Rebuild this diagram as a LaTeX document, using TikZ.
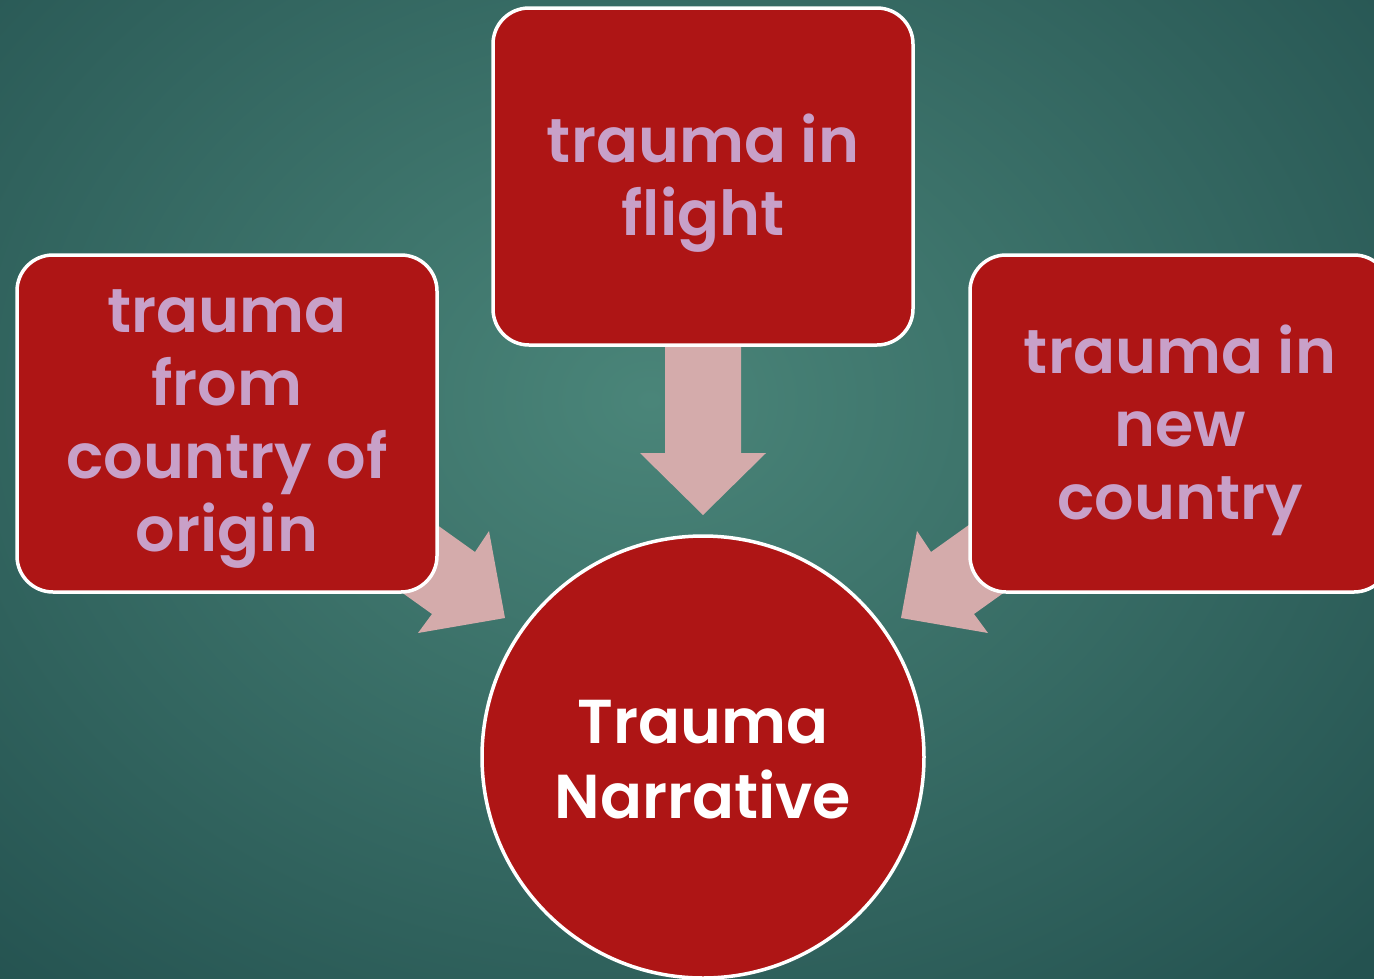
\documentclass[tikz,border=0pt]{standalone}
\usepackage{fontspec}
\setmainfont{Poppins}[BoldFont={* SemiBold}]
\usetikzlibrary{shapes.geometric}
\definecolor{bgmid}{HTML}{4A8579}
\definecolor{bgedge}{HTML}{245250}
\definecolor{boxred}{HTML}{AE1515}
\definecolor{txtpink}{HTML}{C8A0C8}
\definecolor{arrpink}{HTML}{D4ABAB}
\tikzset{
  redbox/.style={rectangle, rounded corners=36pt, draw=white, line width=3.5pt, fill=boxred,
    minimum width=420pt, minimum height=337pt},
  redcircle/.style={circle, draw=white, line width=3.5pt, fill=boxred, minimum size=442pt},
  pinktext/.style={text=txtpink, align=center, font=\fontsize{62}{73}\selectfont\bfseries},
  whitetext/.style={text=white, align=center, font=\fontsize{62}{75}\selectfont\bfseries},
  blockarrow/.style={fill=arrpink, draw=none}
}
\begin{document}
\begin{tikzpicture}[x=1pt,y=-1pt]
\useasboundingbox (0,0) rectangle (1374,978);
\clip (0,0) rectangle (1374,978);
\shade[inner color=bgmid, outer color=bgedge] (-350,-400) rectangle (1650,1200);
% arrows (behind boxes)
\fill[blockarrow] (665,330) -- (741,330) -- (741,453) -- (766,453) -- (703,515) -- (640,453) -- (665,453) -- cycle;
\fill[blockarrow] (370,477) -- (475,552) -- (489,531) -- (505,618) -- (418,633) -- (432,614) -- (327,539) -- cycle;
\fill[blockarrow] (1036,477) -- (931,552) -- (917,531) -- (901,618) -- (988,633) -- (974,614) -- (1079,539) -- cycle;
% boxes
\node[redbox] (flight) at (703,176.5) {};
\node[pinktext] (flighttxt) at (703,183) {trauma in\\flight};
\node[redbox] (origin) at (227,423.5) {};
\node[pinktext] (origintxt) at (227,429) {trauma\\from\\country of\\origin};
\node[redbox] (newc) at (1180,423.5) {};
\node[pinktext] (newctxt) at (1180,430) {trauma in\\new\\country};
\node[redcircle] (narr) at (703,757) {};
\node[whitetext] (narrtxt) at (703,760) {Trauma\\Narrative};
\end{tikzpicture}
\end{document}
